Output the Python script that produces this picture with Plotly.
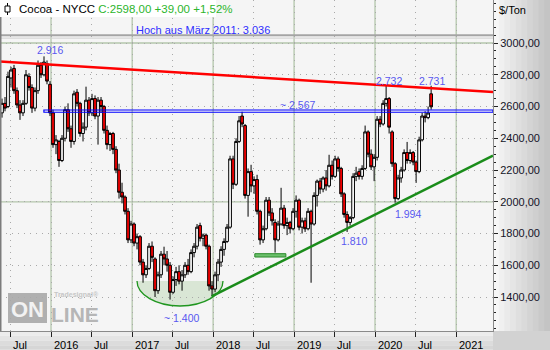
import plotly.graph_objects as go
import pandas as pd

# ---- data (biweekly OHLC, $/Ton) ----
open_ = [2560,2620,2600,2780,2840,2700,2610,2560,2620,2790,2720,2590,2700,2860,2800,2870,2740,2560,2360,2380,
         2260,2400,2580,2460,2380,2690,2620,2430,2470,2640,2560,2650,2540,2640,2600,2450,2360,2430,2330,2200,
         2060,2030,1940,1760,1860,1740,1780,1620,1540,1580,1720,1640,1440,1540,1670,1640,1600,1430,1510,1560,
         1500,1540,1600,1560,1680,1720,1850,1770,1790,1720,1470,1450,1540,1620,1700,1750,1840,2270,2110,2380,
         2540,2480,2040,2190,2100,2140,1940,1760,1830,2010,1930,1870,1760,1860,1960,1850,1870,1830,1940,2010,
         1840,1880,1830,1940,1860,2040,2130,2080,2150,2100,2230,2160,2270,2210,2050,1920,1870,1900,2160,2190,
         2160,2210,2440,2300,2220,2280,2520,2490,2620,2650,2440,2240,2020,2150,2200,2310,2260,2310,2250,2190,
         2390,2540,2530,2680]
high = [2650,2660,2820,2850,2862,2720,2640,2640,2830,2810,2740,2720,2890,2880,2916,2890,2760,2580,2420,2390,
        2420,2600,2620,2480,2700,2710,2630,2500,2725,2660,2680,2670,2660,2660,2610,2480,2440,2440,2350,2240,
        2120,2040,1960,1880,1870,1800,1790,1640,1600,1740,1750,1650,1560,1690,1717,1690,1620,1530,1590,1600,
        1570,1620,1640,1700,1740,1860,1868,1800,1800,1730,1500,1560,1640,1720,1770,1860,2290,2290,2400,2540,
        2567,2490,2210,2233,2160,2170,1950,1850,2030,2030,1960,1890,1880,2088,1980,1900,1880,1960,2040,2020,
        1900,1900,1960,1950,2060,2140,2150,2160,2200,2296,2260,2290,2285,2220,2060,1940,1910,2180,2220,2210,
        2230,2480,2450,2330,2300,2540,2540,2640,2732,2660,2450,2250,2170,2220,2330,2377,2330,2320,2260,2410,
        2560,2570,2600,2731]
low = [2530,2570,2590,2720,2680,2590,2516,2540,2610,2700,2560,2570,2680,2780,2790,2740,2540,2340,2300,2220,
       2250,2380,2440,2340,2360,2600,2410,2380,2450,2540,2540,2520,2360,2560,2430,2330,2320,2300,2180,2020,
       1990,1920,1740,1740,1720,1700,1600,1490,1520,1570,1620,1400,1420,1520,1600,1560,1384,1420,1470,1480,
       1440,1520,1540,1550,1650,1700,1750,1720,1700,1440,1405,1430,1500,1590,1660,1740,1830,2080,2100,2370,
       2470,2020,1906,2060,2050,1920,1730,1740,1820,1910,1850,1680,1750,1850,1830,1790,1800,1820,1900,1820,
       1800,1810,1820,1490,1850,1970,2050,2060,2070,2090,2140,2150,2190,2030,1900,1810,1850,1890,2130,2140,
       2140,2200,2280,2200,2130,2260,2470,2480,2600,2430,2220,1994,2010,2120,2190,2240,2240,2230,2119,2180,
       2380,2500,2520,2580]
close = [2620,2590,2790,2830,2700,2610,2560,2620,2800,2720,2590,2700,2860,2800,2880,2760,2560,2360,2390,2260,
         2400,2580,2460,2380,2680,2620,2430,2470,2640,2560,2650,2540,2640,2600,2450,2360,2430,2330,2200,2060,
         2030,1940,1760,1860,1740,1780,1620,1540,1580,1720,1650,1440,1540,1670,1640,1600,1430,1510,1560,1500,
         1540,1600,1560,1680,1720,1840,1770,1790,1720,1470,1450,1540,1620,1700,1750,1840,2270,2110,2380,2510,
         2490,2040,2190,2100,2140,1940,1760,1830,2010,1930,1880,1760,1860,1960,1850,1870,1830,1940,2010,1840,
         1880,1830,1940,1860,2040,2130,2080,2150,2100,2230,2160,2270,2210,2050,1920,1870,1900,2160,2180,2160,
         2210,2440,2300,2220,2280,2520,2490,2620,2650,2470,2240,2020,2150,2200,2310,2260,2310,2250,2190,2390,
         2540,2530,2559,2598]
dates = pd.date_range("2015-05-25", "2020-09-10", periods=len(close))

x_tick_dates = ["2015-07-01", "2016-01-01", "2016-07-01", "2017-01-01", "2017-07-01", "2018-01-01",
                "2018-07-01", "2019-01-01", "2019-07-01", "2020-01-01", "2020-07-01", "2021-01-01"]
x_tick_text = ["Jul", "2016", "Jul", "2017", "Jul", "2018", "Jul", "2019", "Jul", "2020", "Jul", "2021"]
year_dates = ["2016-01-01", "2017-01-01", "2018-01-01", "2019-01-01", "2020-01-01", "2021-01-01"]
y_tick_vals = [1400, 1600, 1800, 2000, 2200, 2400, 2600, 2800, 3000]
y_tick_text = ["1400,00", "1600,00", "1800,00", "2000,00", "2200,00", "2400,00", "2600,00", "2800,00", "3000,00"]

X_START, X_END = "2015-05-16", "2021-06-16"
Y_MIN, Y_MAX = 1186, 3271

# ---- helpers for pixel-placed decorations ----
PW, PH = 493.0, 331.0
def px(x):
    return x / PW
def py(y):
    return 1 - y / PH

FONT = "Liberation Sans, Arial, sans-serif"
LBL = "#5858f0"

fig = go.Figure(go.Candlestick(
    x=dates, open=open_, high=high, low=low, close=close,
    increasing=dict(line=dict(color="#000000", width=1), fillcolor="#ffffff"),
    decreasing=dict(line=dict(color="#000000", width=1), fillcolor="#ff0000"),
    whiskerwidth=0, showlegend=False, hoverinfo="skip"))

shapes = []
# right panel gradient
n = 10
for k in range(n):
    c = int(246 - (246 - 196) * k / (n - 1))
    shapes.append(dict(type="rect", xref="paper", yref="paper", layer="below",
                       x0=px(493 + 57 * k / n), x1=px(493 + 57 * (k + 1) / n) + 0.002,
                       y0=py(331), y1=1.0, line=dict(width=0),
                       fillcolor=f"rgb({c},{c},{c})"))
# bottom panel
for k, c in enumerate([236, 228, 220, 214]):
    shapes.append(dict(type="rect", xref="paper", yref="paper", layer="below",
                       x0=0, x1=px(493), y0=py(331 + 19 * k / 4), y1=py(331 + 19 * (k + 1) / 4) + 0.001,
                       line=dict(width=0), fillcolor=f"rgb({c},{c},{c})"))
shapes.append(dict(type="rect", xref="paper", yref="paper", layer="below",
                   x0=px(493), x1=px(550), y0=py(350), y1=py(331),
                   line=dict(width=0), fillcolor="#d2d2d2"))
# logo block
shapes.append(dict(type="rect", xref="paper", yref="paper", layer="below", x0=px(8), x1=px(47),
                   y0=py(323), y1=py(293), fillcolor="#b0b0b0", line=dict(width=0)))
# bowl fill (below candles)
cx, cy, rx, ry = 180, 281, 43, 25
kk = 0.5523
def bowl(closed):
    p = (f"M {px(cx-rx)},{py(cy)} "
         f"C {px(cx-rx)},{py(cy+ry*kk)} {px(cx-rx*kk)},{py(cy+ry)} {px(cx)},{py(cy+ry)} "
         f"C {px(cx+rx*kk)},{py(cy+ry)} {px(cx+rx)},{py(cy+ry*kk)} {px(cx+rx)},{py(cy)}")
    return p + (" Z" if closed else "")
shapes.append(dict(type="path", xref="paper", yref="paper", layer="below", path=bowl(True),
                   fillcolor="#d9e6d5", line=dict(width=0)))
# solid year / thousand grid lines
for d in year_dates:
    shapes.append(dict(type="line", xref="x", yref="paper", layer="below", x0=d, x1=d, y0=0, y1=1,
                       line=dict(color="#b3c6ab", width=1.3)))
for v in [2000, 3000]:
    shapes.append(dict(type="line", xref="paper", yref="y", layer="below", x0=0, x1=1, y0=v, y1=v,
                       line=dict(color="#b3c6ab", width=1.3)))
# March 2011 high marker
shapes.append(dict(type="line", xref="paper", yref="y", x0=0, x1=1, y0=3049, y1=3049,
                   line=dict(color="#a4a4a4", width=2)))
shapes.append(dict(type="line", xref="paper", yref="y", x0=0, x1=1, y0=3031, y1=3031,
                   line=dict(color="#cfcfcf", width=1)))
# red resistance line
shapes.append(dict(type="line", xref="x", yref="y", x0=X_START, x1=X_END, y0=2884, y1=2692,
                   line=dict(color="#ff0000", width=2.5)))
# blue horizontal band
shapes.append(dict(type="rect", xref="x", yref="y", x0="2015-11-30", x1=X_END, y0=2564, y1=2578,
                   line=dict(color="#0000ff", width=1.2)))
# green trend line
shapes.append(dict(type="line", xref="x", yref="y", x0="2017-12-25", x1=X_END, y0=1404, y1=2291,
                   line=dict(color="#1a8c1a", width=2.5)))
# green support bar
shapes.append(dict(type="rect", xref="x", yref="y", x0="2018-07-08", x1="2018-11-25", y0=1652, y1=1673,
                   line=dict(color="#2a8a2a", width=1), fillcolor="#6cc06c"))
# bowl arc
shapes.append(dict(type="path", xref="paper", yref="paper", path=bowl(False),
                   line=dict(color="#1f961f", width=1.3)))
# left frame
shapes.append(dict(type="line", xref="paper", yref="paper", x0=0.001, x1=0.001, y0=py(331), y1=1,
                   line=dict(color="#7c7c7c", width=2)))
# title box + icon
shapes.append(dict(type="rect", xref="paper", yref="paper", x0=0, x1=px(216), y0=py(17), y1=1,
                   fillcolor="#ffffff", line=dict(width=0)))
shapes.append(dict(type="line", xref="paper", yref="paper", x0=px(7.5), x1=px(7.5), y0=py(15), y1=py(3),
                   line=dict(color="#000000", width=1)))
shapes.append(dict(type="rect", xref="paper", yref="paper", x0=px(5), x1=px(10), y0=py(12), y1=py(6),
                   fillcolor="#ffffff", line=dict(color="#000000", width=1)))


def note(x, y, text, size=10.5, color=LBL, xanchor="center", bold=False):
    return dict(x=px(x), y=py(y), xref="paper", yref="paper", xanchor=xanchor, yanchor="middle",
                showarrow=False, text=text, font=dict(family=FONT, size=size, color=color))


annotations = []
for d, t in zip(x_tick_dates, x_tick_text):
    annotations.append(dict(x=d, xref="x", y=0, yref="paper", yshift=-14, text=t, showarrow=False,
                            xanchor="left", yanchor="middle", xshift=1,
                            font=dict(family=FONT, size=11, color="#000000")))
annotations += [
    note(17, 9, "Cocoa - NYCC <span style='color:#2cb52c'>C:2598,00 +39,00 +1,52%</span>",
         size=11.5, color="#000000", xanchor="left"),
    note(203, 30, "Hoch aus März 2011: 3.036", size=11, color="#2e2eff"),
    note(497, 10, "$/Ton", size=11, color="#000000", xanchor="left"),
    note(50, 50, "2.916"),
    note(389, 80.5, "2.732"),
    note(432, 80.5, "2.731"),
    note(297, 105, "~ 2.567"),
    note(408, 214, "1.994"),
    note(354, 240.5, "1.810"),
    note(181, 318, "~ 1.400"),
    note(27.5, 309, "<b>ON</b>", size=22, color="#f2f2f2"),
    note(49, 314, "<b>LINE</b>", size=21, color="#b6b6b6", xanchor="left"),
    note(52, 295, "<b>Tradesignal®</b>", size=7, color="#c6c6c6", xanchor="left"),
]

fig.update_layout(
    width=550, height=350, margin=dict(l=0, r=57, t=0, b=19),
    paper_bgcolor="#f5f5f5", plot_bgcolor="#f5f5f5",
    boxgap=0.05, boxgroupgap=0.05,
    shapes=shapes, annotations=annotations, showlegend=False,
    xaxis=dict(type="date", range=[X_START, X_END], rangeslider=dict(visible=False),
               tickmode="array", tickvals=x_tick_dates, showticklabels=False,
               ticks="outside", ticklen=5, tickcolor="#222222",
               showgrid=True, gridcolor="#a9a9a9", griddash="1px,5px", gridwidth=1,
               showline=True, linecolor="#8a8a8a", linewidth=1, zeroline=False, fixedrange=True),
    yaxis=dict(side="right", range=[Y_MIN, Y_MAX], tickmode="array", tickvals=y_tick_vals,
               ticktext=y_tick_text, ticks="outside", ticklen=4, tickcolor="#222222",
               tickfont=dict(family=FONT, size=11, color="#141428"),
               minor=dict(tickmode="linear", tick0=1200, dtick=50, ticks="outside", ticklen=2,
                          tickcolor="#222222", showgrid=False),
               showgrid=True, gridcolor="#a9a9a9", griddash="1px,5px", gridwidth=1,
               showline=True, linecolor="#8a8a8a", linewidth=1, zeroline=False, fixedrange=True),
)

fig.write_html("out.html")
